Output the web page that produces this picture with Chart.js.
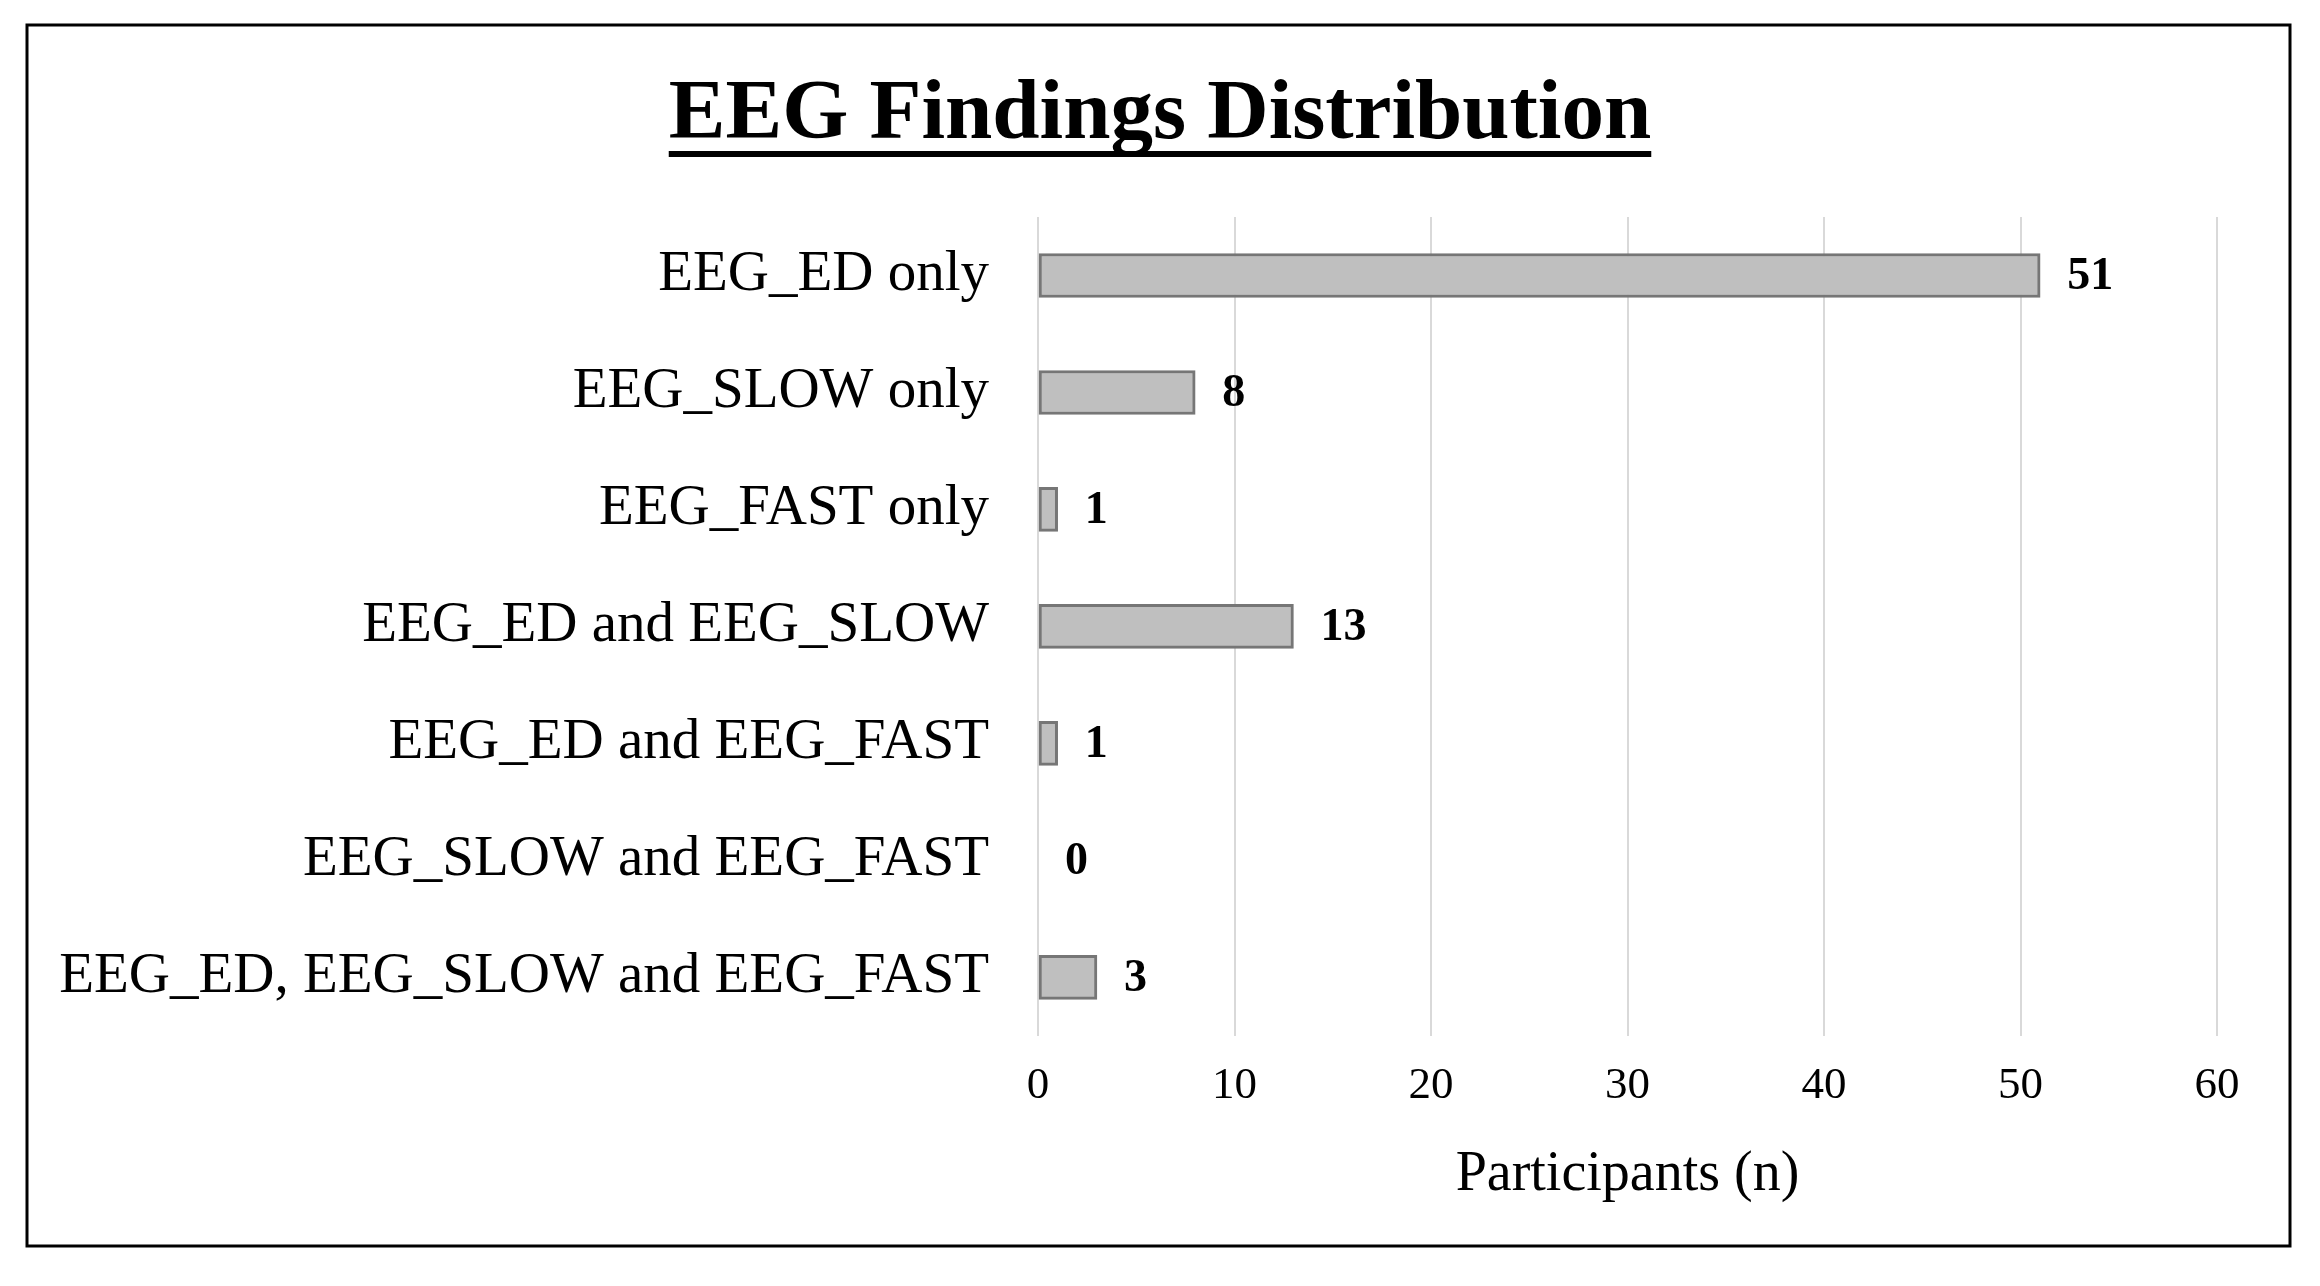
<!DOCTYPE html>
<html>
<head>
<meta charset="utf-8">
<script src="https://cdn.jsdelivr.net/npm/chart.js@4/dist/chart.umd.min.js"></script>
<style>
  html, body { margin: 0; padding: 0; background: #fff; }
  #wrap { position: absolute; left: 0; top: 0; width: 2320px; height: 1286px; }
</style>
</head>
<body>
<div id="wrap"><canvas id="eegChart"></canvas></div>
<script>
/* EEG findings - horizontal bar chart */
const categories = [
  'EEG_ED only',
  'EEG_SLOW only',
  'EEG_FAST only',
  'EEG_ED and EEG_SLOW',
  'EEG_ED and EEG_FAST',
  'EEG_SLOW and EEG_FAST',
  'EEG_ED, EEG_SLOW and EEG_FAST'
];
const participants = [51, 8, 1, 13, 1, 0, 3];
const xTicks = [0, 10, 20, 30, 40, 50, 60];

const serif = "'Liberation Serif', 'Times New Roman', serif";

// frame round the whole chart + underline under the title
const framePlugin = {
  id: 'frame',
  beforeDraw(chart) {
    const ctx = chart.ctx;
    ctx.save();
    ctx.fillStyle = '#fff';
    ctx.fillRect(0, 0, chart.width, chart.height);
    ctx.restore();
  },
  afterDraw(chart) {
    const ctx = chart.ctx;
    ctx.save();
    ctx.strokeStyle = '#000';
    ctx.lineWidth = 3;
    ctx.strokeRect(27, 25, 2263, 1221);
    // underline
    const t = chart.titleBlock;
    ctx.font = 'bold 85px ' + serif;
    const w = ctx.measureText(t.options.text).width;
    const cx = (t.left + t.right) / 2;
    ctx.fillStyle = '#000';
    ctx.fillRect(cx - w / 2, 151, w, 6);
    ctx.restore();
  }
};

// value labels to the right of every bar
const valueLabels = {
  id: 'valueLabels',
  afterDatasetsDraw(chart) {
    const ctx = chart.ctx;
    const meta = chart.getDatasetMeta(0);
    ctx.save();
    ctx.font = 'bold 46px ' + serif;
    ctx.fillStyle = '#000';
    ctx.textAlign = 'left';
    ctx.textBaseline = 'middle';
    meta.data.forEach((bar, i) => {
      ctx.fillText(String(participants[i]), bar.x + 27, bar.y + 2);
    });
    ctx.restore();
  }
};

const data = {
  labels: categories,
  datasets: [{
    label: 'Participants',
    data: participants,
    backgroundColor: '#bfbfbf',
    borderColor: '#767676',
    borderWidth: 3,
    borderSkipped: false,
    barThickness: 44
  }]
};

const config = {
  type: 'bar',
  data: data,
  options: {
    indexAxis: 'y',
    responsive: true,
    maintainAspectRatio: false,
    animation: false,
    layout: {
      padding: { left: 0, right: 0, top: 0, bottom: 77 }
    },
    plugins: {
      legend: { display: false },
      tooltip: { enabled: false },
      title: {
        display: true,
        text: 'EEG Findings Distribution',
        color: '#000',
        font: { family: serif, size: 85, weight: 'bold', lineHeight: 1.2 },
        padding: { top: 65, bottom: 50 }
      }
    },
    scales: {
      x: {
        min: 0,
        max: 60,
        afterBuildTicks(scale) {
          scale.ticks = xTicks.map(v => ({ value: v }));
        },
        grid: { color: '#d9d9d9', lineWidth: 2, drawTicks: false, tickLength: 0 },
        border: { display: false },
        ticks: {
          color: '#000',
          padding: 23,
          maxRotation: 0,
          font: { family: serif, size: 45, lineHeight: 1.2 }
        },
        title: {
          display: true,
          text: 'Participants (n)',
          color: '#000',
          font: { family: serif, size: 56, lineHeight: 1.2 },
          padding: { top: 6, bottom: 0 }
        }
      },
      y: {
        afterFit(scale) { scale.width = 1038; },
        grid: { display: false, drawTicks: false, tickLength: 0 },
        border: { display: false },
        ticks: {
          color: '#000',
          padding: 49,
          font: { family: serif, size: 57 }
        }
      },
      // empty axis on the right, only reserves the blank margin
      yRight: {
        type: 'category',
        position: 'right',
        afterFit(scale) { scale.width = 103; },
        grid: { display: false, drawTicks: false, tickLength: 0 },
        border: { display: false },
        ticks: { display: false }
      }
    }
  },
  plugins: [framePlugin, valueLabels]
};

const eegChart = new Chart(document.getElementById('eegChart'), config);
</script>
</body>
</html>
